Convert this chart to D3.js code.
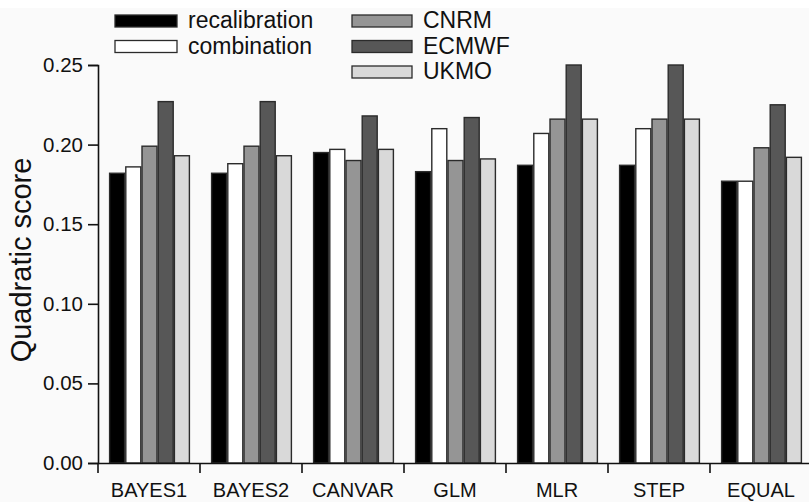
<!DOCTYPE html>
<html>
<head>
<meta charset="utf-8">
<script src="https://cdn.jsdelivr.net/npm/d3@7/dist/d3.min.js"></script>
<style>
  html, body { margin: 0; padding: 0; background: #ffffff; }
  svg { display: block; font-family: "Liberation Sans", Arial, Helvetica, sans-serif; }
</style>
</head>
<body>
<svg id="chart" width="809" height="502"></svg>
<script>
const categories = ["BAYES1", "BAYES2", "CANVAR", "GLM", "MLR", "STEP", "EQUAL"];
const seriesNames = ["recalibration", "combination", "CNRM", "ECMWF", "UKMO"];
const recalibration = [0.182, 0.182, 0.195, 0.183, 0.187, 0.187, 0.177];
const combination   = [0.186, 0.188, 0.197, 0.210, 0.207, 0.210, 0.177];
const CNRM          = [0.199, 0.199, 0.190, 0.190, 0.216, 0.216, 0.198];
const ECMWF         = [0.227, 0.227, 0.218, 0.217, 0.250, 0.250, 0.225];
const UKMO          = [0.193, 0.193, 0.197, 0.191, 0.216, 0.216, 0.192];
const yTicks = [0.00, 0.05, 0.10, 0.15, 0.20, 0.25];
const yTitle = "Quadratic score";

const seriesValues = { recalibration, combination, CNRM, ECMWF, UKMO };
const fills = { recalibration: "#000000", combination: "#ffffff", CNRM: "#959595", ECMWF: "#575757", UKMO: "#d9d9d9" };

const svg = d3.select("#chart");
svg.append("rect").attr("x", 0).attr("y", 8).attr("width", 809).attr("height", 494).attr("fill", "#fafafa");

const x0 = d3.scaleBand().domain(categories).range([98, 812]).paddingInner(0).paddingOuter(0);
const x1 = d3.scaleBand().domain(seriesNames).range([11, 92]).padding(0);
const y = d3.scaleLinear().domain([0, 0.25]).range([463, 65]);

// bars
const rows = [];
categories.forEach((c, ci) => {
  seriesNames.forEach(s => rows.push({ cat: c, series: s, value: seriesValues[s][ci] }));
});
svg.append("g").selectAll("rect").data(rows).join("rect")
  .attr("x", d => x0(d.cat) + x1(d.series) + 0.6)
  .attr("y", d => y(d.value))
  .attr("width", x1.bandwidth() - 1.2)
  .attr("height", d => y(0) - y(d.value))
  .attr("fill", d => fills[d.series])
  .attr("stroke", "#2b2b2b")
  .attr("stroke-width", 1.4);

// y axis
const yAxis = d3.axisLeft(y).tickValues(yTicks).tickFormat(d3.format(".2f")).tickSizeOuter(0).tickSize(10).tickPadding(5);
const gy = svg.append("g").attr("transform", "translate(98,0)").call(yAxis);
gy.selectAll("text").attr("font-size", 20.5).attr("fill", "#111").attr("font-family", "Liberation Sans, Arial, sans-serif");
gy.selectAll("line, path").attr("stroke", "#111").attr("stroke-width", 1.6);

// x axis
const xAxis = d3.axisBottom(x0).tickSize(0).tickSizeOuter(0).tickPadding(20);
const gx = svg.append("g").attr("transform", "translate(0,463)").call(xAxis);
gx.select(".domain").attr("stroke", "#111").attr("stroke-width", 1.6);
gx.selectAll("text").attr("font-size", 20).attr("fill", "#111").attr("font-family", "Liberation Sans, Arial, sans-serif");
gx.selectAll(".boundary").data(categories).join("line")
  .attr("class", "boundary")
  .attr("x1", d => x0(d)).attr("x2", d => x0(d))
  .attr("y1", 0).attr("y2", 10)
  .attr("stroke", "#111").attr("stroke-width", 1.6);

// y title
svg.append("text")
  .attr("transform", "translate(31,260) rotate(-90)")
  .attr("text-anchor", "middle")
  .attr("font-size", 29)
  .attr("fill", "#111")
  .text(yTitle);

// legend
const legendPos = [
  { sx: 115, tx: 188, row: 0 },
  { sx: 115, tx: 188, row: 1 },
  { sx: 352, tx: 423, row: 0 },
  { sx: 352, tx: 423, row: 1 },
  { sx: 352, tx: 423, row: 2 }
];
const lg = svg.append("g");
seriesNames.forEach((s, i) => {
  const p = legendPos[i];
  const top = 15 + p.row * 25.5;
  lg.append("rect")
    .attr("x", p.sx).attr("y", top)
    .attr("width", i < 2 ? 62 : 60).attr("height", 12)
    .attr("fill", fills[s]).attr("stroke", "#2b2b2b").attr("stroke-width", 1.3);
  lg.append("text")
    .attr("x", p.tx).attr("y", top + 13)
    .attr("font-size", 23).attr("fill", "#111")
    .text(s);
});
</script>
</body>
</html>
